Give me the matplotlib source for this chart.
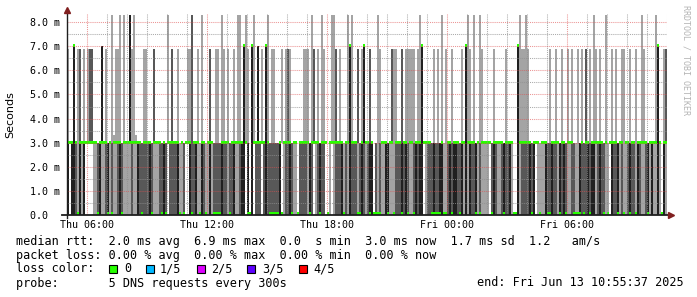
import matplotlib
matplotlib.use("Agg")
import matplotlib.pyplot as plt
import numpy as np
from matplotlib.patches import Rectangle

# smoke data, one column = 6 minutes starting Thu 05:00
col_hours = 0.1
# shade of the 0..3 ms part of the smoke: w none, l light, d dark, k darkest
base_shade = ("kwkkdlklkw" "wwwlldklld" "kldlldkdll" "lldllkdddd" "dkdlllddkd"
              "wddddklldw" "wkddkllkdl" "lklddddkdd" "lddklldkkw" "kwkwdddwdk"
              "ddddddkwld" "dkdllwdddd" "lkdwldkddw" "wlwldddkld" "lkdddldkdl"
              "dkkwdldllk" "kllldddkdk" "dlldkdkkwl" "dddkddkkll" "dkdkkddklk"
              "lkddkldlll" "lwdkdlldkd" "dklwwklddd" "dkdkwllllk" "ddkddlkdkd"
              "llddllkddd" "kdkkldkddl" "lwkddkldll" "dkddlkdlld" "klkllklwkl")
# smoke above 3 ms: . none, l/d/k up to ~7 ms, L/D/K up to 8.3 ms, m small bump
tall_shade = ("l..k.ld.l." "ldd....k.l" "..LmllL.L." ".KlLm...ll" "...d......"
              "L.d..l...." "llD..l.L.." ".d..ll.Ll." "l..l.LL.kL" "l.kL.k.l.k"
              "L.ll...l.l" "dl......ll" "l.Ld.l.Ll." "..LLd.l..." "LkL..d.lk."
              ".d...Ll..." "..dll..d.l" "llll.lLk.." "...l.l.L.l" "..l....l.k"
              "Ll.L..Ll.." "...l.....l" ".....kLllL" "l........." ".l..l..l.."
              "l.l..l.l.d" ".l.Ll.l..L" "..l.l..ll." ".l..l..Ll." "....Lk..ld")
# median rtt per column (ms)
median_ms = ("3337303333" "3333303333" "0303333033" "3333333033" "3303333030"
             "3333330303" "3303330330" "3330000333" "3033333373" "0073333337"
             "3000003033" "3303303333" "3033330333" "0333333303" "3733300373"
             "3030000333" "0330333033" "0330333733" "3300000300" "3303330337"
             "3333030333" "3303333303" "3330073333" "3303330333" "0033330330"
             "3330000303" "3033333303" "0333303303" "3033033333" "0333373033")

base_top = 3.0
tall_top = {'l': 6.9, 'L': 8.3, 'd': 6.9, 'D': 8.3, 'k': 7.0, 'K': 8.3, 'm': 3.3}
tall_kind = {'l': 'l', 'L': 'l', 'd': 'd', 'D': 'd', 'k': 'k', 'K': 'k', 'm': 'l'}

x_ticks = [1, 7, 13, 19, 25]
x_labels = ['Thu 06:00', 'Thu 12:00', 'Thu 18:00', 'Fri 00:00', 'Fri 06:00']
y_ticks = [0, 1, 2, 3, 4, 5, 6, 7, 8]
y_labels = ['0.0  ', '1.0 m', '2.0 m', '3.0 m', '4.0 m', '5.0 m', '6.0 m', '7.0 m', '8.0 m']

loss_labels = ['0', '1/5', '2/5', '3/5', '4/5']
loss_colors = ['#26ff00', '#00b8ff', '#dd00ff', '#5e00ff', '#ff0000']

shade_colors = {'l': '#a4a4a4', 'd': '#585858', 'k': '#202020'}
MONO = 'DejaVu Sans Mono'

W, H = 697, 297
fig = plt.figure(figsize=(W / 100, H / 100), dpi=100)
fig.patch.set_facecolor('white')
ax = fig.add_axes([67 / W, (H - 215) / H, 600 / W, 201 / H])
n = len(base_shade)
xs = np.arange(n) * col_hours
ax.set_xlim(0, n * col_hours)
ax.set_ylim(0, 8.34)

# base part of the smoke
for code, col in shade_colors.items():
    sel = np.array([c == code for c in base_shade])
    ax.bar(xs[sel], base_top, width=col_hours, align='edge', color=col,
           linewidth=0, antialiased=False, zorder=2)

# upper part of the smoke
for code, top in tall_top.items():
    sel = np.array([c == code for c in tall_shade])
    col = shade_colors[tall_kind[code]]
    ax.bar(xs[sel], top - base_top, bottom=base_top, width=col_hours, align='edge',
           color=col, linewidth=0, antialiased=False, zorder=2)

# median marks
med = np.array([float(c) for c in median_ms])
bottoms = np.where(med == 0, 0.0, med - 0.04)
ax.bar(xs, 0.12, bottom=bottoms, width=col_hours, align='edge', color=loss_colors[0],
       linewidth=0, antialiased=False, zorder=3)

# grid on top, rrdtool style
minor_c = (0.56, 0.56, 0.56, 0.75)
major_c = (0.87, 0.31, 0.31, 0.6)
for h in range(1, 31):
    c = major_c if h in x_ticks else minor_c
    ax.axvline(h, color=c, lw=0.75, dashes=(1, 1), zorder=5)
for v in np.arange(0.5, 8.4, 0.5):
    c = major_c if v in y_ticks else minor_c
    ax.axhline(v, color=c, lw=0.75, dashes=(1, 1), zorder=5)

for s in ax.spines.values():
    s.set_visible(False)
ax.set_xticks(x_ticks)
ax.set_xticklabels(x_labels)
ax.set_yticks(y_ticks)
ax.set_yticklabels(y_labels)
ax.tick_params(length=0, labelsize=7.2)
ax.tick_params(axis='y', pad=5)
ax.tick_params(axis='x', pad=3.5)
for t in ax.get_xticklabels() + ax.get_yticklabels():
    t.set_family(MONO)

# axes with arrows
axis_c = (0.12, 0.12, 0.12)
arrow_c = (0.5, 0.12, 0.12)
px_x = n * col_hours / 600
px_y = 1 / 24.09
ax.plot([0, 0], [-3 * px_y, 8.34 + 3 * px_y], color=axis_c, lw=1, clip_on=False, zorder=6)
ax.plot([-5 * px_x, n * col_hours + 2 * px_x], [0, 0], color=axis_c, lw=1.3, clip_on=False, zorder=6)
ax.plot([0], [8.34 + 4 * px_y], marker='^', ms=4, color=arrow_c, clip_on=False, zorder=7)
ax.plot([n * col_hours + 4 * px_x], [0], marker='>', ms=4, color=arrow_c, clip_on=False, zorder=7)

fig.text(10 / W, 1 - 115 / H, 'Seconds', rotation=90, ha='center', va='center',
         fontsize=8, family='DejaVu Sans')
fig.text(686 / W, 1 - 5 / H, 'RRDTOOL / TOBI OETIKER', rotation=270, ha='center', va='top',
         fontsize=6, family=MONO, color='#b4b4b4')

lines = [
    'median rtt:  2.0 ms avg  6.9 ms max  0.0  s min  3.0 ms now  1.7 ms sd  1.2   am/s',
    'packet loss: 0.00 % avg  0.00 % max  0.00 % min  0.00 % now',
    'loss color:',
    'probe:       5 DNS requests every 300s',
]
ys = [242, 255.5, 269, 283]
for txt, y in zip(lines, ys):
    fig.text(16 / W, 1 - y / H, txt, ha='left', va='center', fontsize=8.5, family=MONO)

sq_x = [109, 146, 197, 247, 299]
lab_x = [124, 160, 211, 262, 313]
for lab, col, sx, lx in zip(loss_labels, loss_colors, sq_x, lab_x):
    fig.patches.append(Rectangle((sx / W, 1 - 273 / H), 8 / W, 8 / H, transform=fig.transFigure,
                                 facecolor=col, edgecolor='black', lw=0.8))
    fig.text(lx / W, 1 - 269 / H, lab, ha='left', va='center', fontsize=8.5, family=MONO)

fig.text(684 / W, 1 - 283 / H, 'end: Fri Jun 13 10:55:37 2025', ha='right', va='center',
         fontsize=8.5, family=MONO)

fig.savefig('out.png', dpi=100)
